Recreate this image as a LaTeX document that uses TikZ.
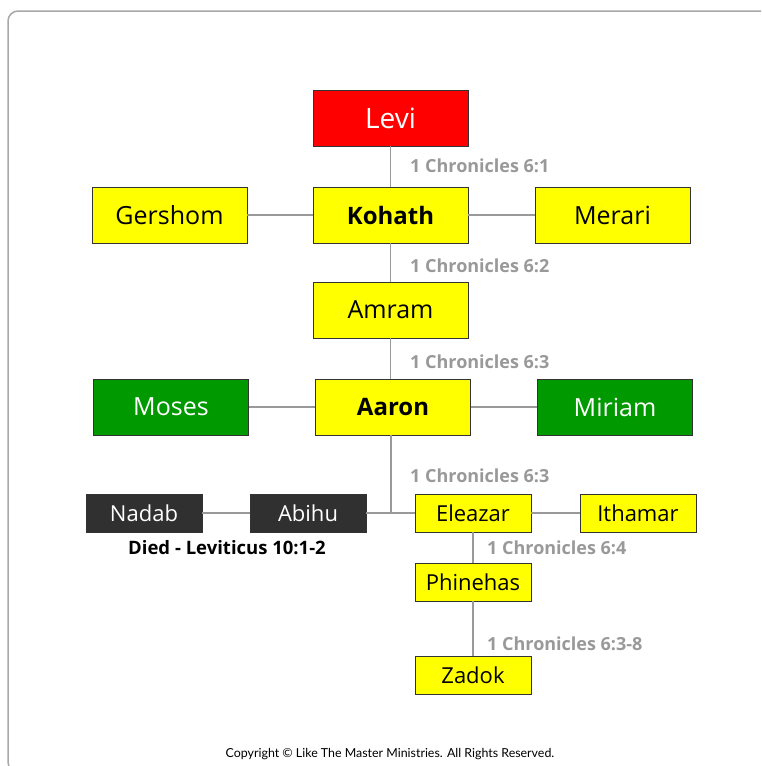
\documentclass[tikz,border=0pt]{standalone}
\usepackage{fontspec}
\setmainfont{Open Sans}
\newfontfamily\latofont{Lato}
\definecolor{lvred}{HTML}{FF0000}
\definecolor{lvyellow}{HTML}{FFFF00}
\definecolor{lvgreen}{HTML}{009900}
\definecolor{lvdark}{HTML}{303030}
\definecolor{lvgray}{HTML}{999999}
\definecolor{lvframe}{HTML}{A8A8A8}
\tikzset{
  bigbox/.style={draw=black!80, line width=0.8pt, minimum width=155pt, minimum height=56pt, inner sep=0pt, font=\fontsize{25}{29}\selectfont},
  smallbox/.style={draw=black!80, line width=0.8pt, minimum width=116pt, minimum height=38pt, inner sep=0pt, font=\fontsize{22}{25}\selectfont},
  yel/.style={fill=lvyellow, text=black},
  grn/.style={fill=lvgreen, text=white},
  drk/.style={fill=lvdark, text=white},
  conn/.style={draw=lvgray, line width=1.2pt},
  ref/.style={text=lvgray, font=\bfseries\fontsize{18}{21}\selectfont, anchor=west, inner sep=0pt},
}
\begin{document}
\begin{tikzpicture}[x=1pt,y=-1pt]
\useasboundingbox (0,0) rectangle (761,766);
\clip (0,0) rectangle (761,766);
\fill[white] (0,0) rectangle (761,766);
\draw[lvframe, line width=1.5pt, rounded corners=10pt] (8,11) rectangle (800,772);

\node[bigbox, fill=lvred, text=white, font=\fontsize{28}{32}\selectfont] (levi) at (390.5,118) {Levi};
\node[bigbox, yel, font=\bfseries\fontsize{24}{28}\selectfont] (kohath) at (390.5,215) {Kohath};
\node[bigbox, yel] (gershom) at (169.5,215) {Gershom};
\node[bigbox, yel] (merari) at (612.5,215) {Merari};
\node[bigbox, yel] (amram) at (390.5,310) {Amram};
\node[bigbox, grn] (moses) at (171,407) {Moses};
\node[bigbox, yel, font=\bfseries\fontsize{24}{28}\selectfont] (aaron) at (393,407) {Aaron};
\node[bigbox, grn] (miriam) at (615,407) {Miriam};

\node[smallbox, drk] (nadab) at (144,513) {Nadab};
\node[smallbox, drk] (abihu) at (308,513) {Abihu};
\node[smallbox, yel] (eleazar) at (473,513) {Eleazar};
\node[smallbox, yel] (ithamar) at (638,513) {Ithamar};
\node[smallbox, yel] (phinehas) at (473,582) {Phinehas};
\node[smallbox, yel] (zadok) at (473,675) {Zadok};

\coordinate (junc) at (391,513);

\draw[conn] (levi.south) -- (kohath.north);
\draw[conn] (gershom.east) -- (kohath.west);
\draw[conn] (kohath.east) -- (merari.west);
\draw[conn] (kohath.south) -- (amram.north);
\draw[conn] (amram.south) -- (amram.south |- aaron.north);
\draw[conn] (moses.east) -- (aaron.west);
\draw[conn] (aaron.east) -- (miriam.west);
\draw[conn] (aaron.south -| junc) -- (junc);
\draw[conn] (abihu.east) -- (eleazar.west);
\draw[conn] (nadab.east) -- (abihu.west);
\draw[conn] (eleazar.east) -- (ithamar.west);
\draw[conn] (eleazar.south) -- (phinehas.north);
\draw[conn] (phinehas.south) -- (zadok.north);

\node[ref] (r1) at (410,166) {1 Chronicles 6:1};
\node[ref] (r2) at (410,266) {1 Chronicles 6:2};
\node[ref] (r3) at (410,362) {1 Chronicles 6:3};
\node[ref] (r4) at (410,476) {1 Chronicles 6:3};
\node[ref] (r5) at (487,548) {1 Chronicles 6:4};
\node[ref] (r6) at (487,644) {1 Chronicles 6:3-8};

\node[font=\bfseries\fontsize{18.5}{21}\selectfont, inner sep=0pt] (died) at (227,548) {Died - Leviticus 10:1-2};
\node[font=\latofont\fontsize{12.4}{15}\selectfont, inner sep=0pt] (copy) at (390,754) {Copyright © Like The Master Ministries. All Rights Reserved.};
\end{tikzpicture}
\end{document}
